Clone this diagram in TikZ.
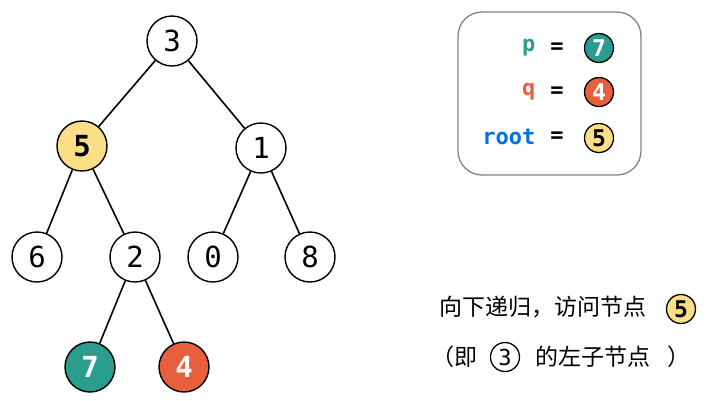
\documentclass[tikz,border=0pt]{standalone}
\usepackage{fontspec}
\newfontfamily\cjk{Noto Sans CJK SC}
\newfontfamily\monof{DejaVu Sans Mono}
\definecolor{tealc}{RGB}{42,157,143}
\definecolor{redc}{RGB}{231,95,60}
\definecolor{yelc}{RGB}{252,222,135}
\definecolor{bluec}{RGB}{0,113,227}
\definecolor{boxc}{RGB}{130,130,130}
\tikzset{
  tn/.style={circle,draw=black,line width=1.4pt,minimum size=50pt,inner sep=0pt,fill=white,font=\monof\fontsize{29}{30}\selectfont},
  tnb/.style={tn,font=\monof\bfseries\fontsize{29}{30}\selectfont},
  sn/.style={circle,draw=black,line width=1.3pt,minimum size=29pt,inner sep=0pt,fill=white,font=\monof\bfseries\fontsize{23}{24}\selectfont},
  edge/.style={line width=1.6pt},
  lab/.style={anchor=east,font=\monof\bfseries\fontsize{22}{24}\selectfont},
  eq/.style={font=\monof\bfseries\fontsize{22}{24}\selectfont},
  zh/.style={font=\cjk\fontsize{23}{25}\selectfont,inner sep=0pt}
}
\begin{document}
\begin{tikzpicture}[x=1pt,y=-1pt]
\useasboundingbox (0,0) rectangle (710,400);
\node[tn] (n3) at (172,41) {3};
\node[tnb,fill=yelc] (n5) at (82,146) {5};
\node[tn] (n1) at (261,148) {1};
\node[tn] (n6) at (37,257) {6};
\node[tn] (n2) at (135,257) {2};
\node[tn] (n0) at (213,257) {0};
\node[tn] (n8) at (310,257) {8};
\node[tnb,fill=tealc,text=white] (n7) at (90,367) {7};
\node[tnb,fill=redc,text=white] (n4) at (184,367) {4};
\draw[edge] (n3) -- (n5);
\draw[edge] (n3) -- (n1);
\draw[edge] (n5) -- (n6);
\draw[edge] (n5) -- (n2);
\draw[edge] (n1) -- (n0);
\draw[edge] (n1) -- (n8);
\draw[edge] (n2) -- (n7);
\draw[edge] (n2) -- (n4);
% legend
\node[draw=boxc,line width=1.3pt,rounded corners=24pt,minimum width=183pt,minimum height=163pt] (box) at (549.5,93.5) {};
\node[lab,text=tealc] (lp) at (539,48) {p};
\node[lab,text=redc] (lq) at (539,92) {q};
\node[lab,text=bluec] (lr) at (539,137) {root};
\node[eq] (e1) at (557,48) {=};
\node[eq] (e2) at (557,92) {=};
\node[eq] (e3) at (557,137) {=};
\node[sn,fill=tealc,text=white] (c7) at (599,48) {7};
\node[sn,fill=redc,text=white] (c4) at (599,92) {4};
\node[sn,fill=yelc] (c5) at (599,138) {5};
% caption
\node[zh,anchor=west] (t1) at (439,307) {向下递归，访问节点};
\node[sn,fill=yelc] (d5) at (681,309) {5};
\node[zh,anchor=west] (t2) at (431,357) {（即};
\node[sn,font=\monof\fontsize{22}{24}\selectfont] (d3) at (505,357) {3};
\node[zh,anchor=west] (t3) at (535,357) {的左子节点};
\node[zh,anchor=west] (t4) at (667,357) {）};
\end{tikzpicture}
\end{document}
